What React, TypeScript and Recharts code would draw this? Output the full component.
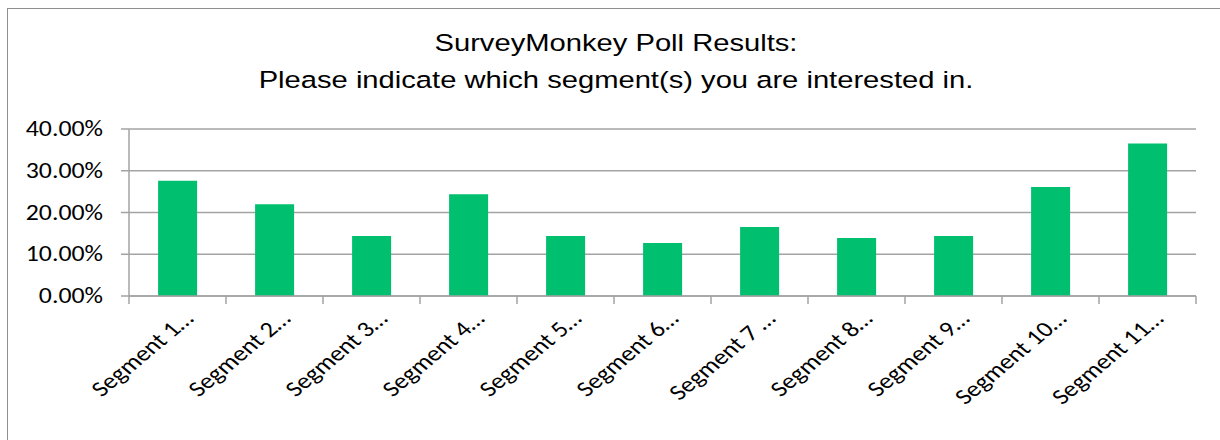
import * as React from 'react';
import { Bar, BarChart, CartesianGrid, XAxis, YAxis } from 'recharts';

const categories = [
  'Segment 1…', 'Segment 2…', 'Segment 3…', 'Segment 4…', 'Segment 5…', 'Segment 6…',
  'Segment 7 …', 'Segment 8…', 'Segment 9…', 'Segment 10…', 'Segment 11…',
];
const shares = [0.276, 0.22, 0.144, 0.244, 0.144, 0.127, 0.165, 0.139, 0.144, 0.261, 0.365];
const yTicks = [0, 0.1, 0.2, 0.3, 0.4];
const titleLines = ['SurveyMonkey Poll Results:', 'Please indicate which segment(s) you are interested in.'];

const data = categories.map((name, i) => ({ name, value: shares[i] }));

const gridColor = '#a3a3a3';
const labelFont = 'Carlito, "Open Sans", sans-serif';
const sx = 1.2; // the reference is stretched sideways

const pct = (v: number) => `${(v * 100).toFixed(2)}%`;

function YTick(props: any) {
  const { x, y, payload } = props;
  return (
    <g transform={`translate(${x},${y})`}>
      <text transform={`scale(${sx},1)`} x={0} y={0} textAnchor="end" dy="0.33em"
        fontFamily={labelFont} fontSize={21.5} style={{ fontFamily: labelFont, fontSize: 21.5 }} fill="#000">
        {pct(payload.value)}
      </text>
    </g>
  );
}

function XTick(props: any) {
  const { x, y, payload, index, width, visibleTicksCount } = props;
  const band = width / visibleTicksCount;
  const c = Math.SQRT1_2;
  return (
    <g>
      <line x1={x - band / 2} x2={x - band / 2} y1={y} y2={y + 8} stroke={gridColor} strokeWidth={1.5} />
      {index === visibleTicksCount - 1 && (
        <line x1={x + band / 2} x2={x + band / 2} y1={y} y2={y + 8} stroke={gridColor} strokeWidth={1.5} />
      )}
      <text transform={`matrix(${sx * c},${-c},${sx * c},${c},${x + 17.5},${y + 24})`} textAnchor="end"
        fontFamily={labelFont} fontSize={22} style={{ fontFamily: labelFont, fontSize: 22 }} fill="#000">
        {payload.value}
      </text>
    </g>
  );
}

export default function App() {
  return (
    <div style={{ position: 'absolute', left: 0, top: 0, width: 1220, height: 440, overflow: 'hidden', background: '#fff' }}>
      <div style={{ position: 'absolute', left: 7, top: 8, width: 1240, height: 460, border: '1.5px solid #8f8f8f' }} />
      <div
        style={{
          position: 'absolute', left: 0, top: 25, width: 1232, textAlign: 'center',
          fontFamily: '"Liberation Sans", Arial, sans-serif', fontSize: 24.3, lineHeight: '36.7px',
          color: '#000', transform: `scaleX(${sx})`, transformOrigin: '616px 0',
        }}
      >
        {titleLines.map((t) => <div key={t}>{t}</div>)}
      </div>
      <div style={{ position: 'absolute', left: 0, top: 0 }}>
        <BarChart width={1220} height={440} data={data} barCategoryGap="30%"
          margin={{ top: 129, right: 24, left: 0, bottom: 14 }}>
          <CartesianGrid vertical={false} stroke={gridColor} strokeWidth={1.5} />
          <XAxis dataKey="name" interval={0} height={130} tickLine={false} tickSize={0} tickMargin={0}
            axisLine={{ stroke: gridColor, strokeWidth: 1.5 }} tick={(p: any) => <XTick {...p} />} />
          <YAxis domain={[0, 0.4]} ticks={yTicks} width={129} tickSize={8} tickMargin={18}
            axisLine={{ stroke: gridColor, strokeWidth: 1.5 }}
            tickLine={{ stroke: gridColor, strokeWidth: 1.5 }} tick={(p: any) => <YTick {...p} />} />
          <Bar dataKey="value" fill="#00BF6F" isAnimationActive={false} />
        </BarChart>
      </div>
    </div>
  );
}
